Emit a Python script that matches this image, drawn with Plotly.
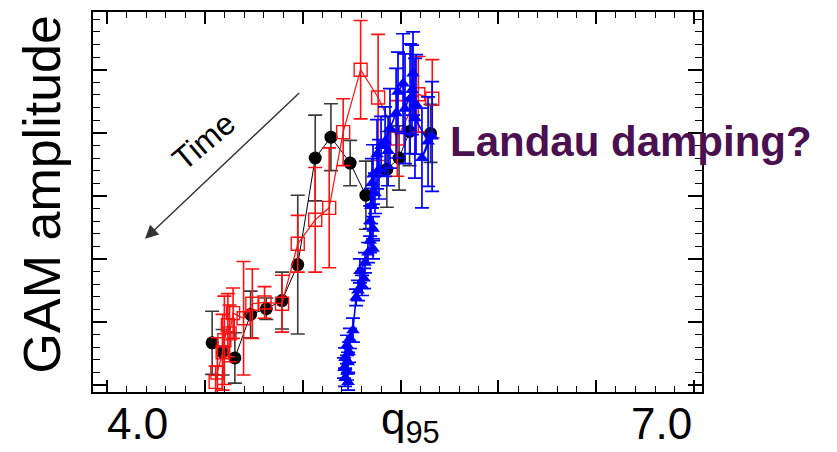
import plotly.graph_objects as go

# ---- data (q95, GAM amplitude in arbitrary units) ----
black_q = [4.43, 4.49, 4.56, 4.65, 4.74, 4.83, 4.92, 5.02, 5.11, 5.22, 5.31, 5.43, 5.50, 5.56, 5.68]
black_amp = [0.67, 0.52, 0.43, 1.12, 1.21, 1.34, 1.91, 3.60, 3.93, 3.52, 3.01, 3.42, 3.60, 4.02, 3.99]
black_err = [0.50, 0.36, 0.40, 0.37, 0.17, 0.45, 1.10, 0.68, 0.53, 0.36, 0.54, 0.60, 0.51, 0.54, 0.46]

red_q = [4.45, 4.46, 4.49, 4.50, 4.52, 4.53, 4.55, 4.61, 4.66, 4.73, 4.83, 4.92, 5.02, 5.10,
         5.18, 5.28, 5.38, 5.49, 5.61, 5.69]
red_amp = [0.05, 0.20, 0.52, 0.71, 0.95, 0.82, 1.14, 1.06, 1.29, 1.31, 1.29, 2.24, 2.62, 2.81,
           4.01, 5.00, 4.56, 3.91, 4.61, 4.54]
red_err = [0.25, 0.55, 0.60, 0.70, 0.50, 0.45, 0.40, 0.90, 0.55, 0.25, 0.45, 0.45, 0.83, 0.95,
           0.53, 0.78, 1.00, 0.60, 0.60, 0.62]

blue_q = [5.689, 5.631, 5.666, 5.591, 5.580, 5.563, 5.597, 5.574, 5.534, 5.523, 5.494, 5.483,
          5.448, 5.420, 5.437, 5.397, 5.374, 5.385, 5.351, 5.345, 5.362, 5.339, 5.334, 5.351,
          5.334, 5.351, 5.322, 5.305, 5.276, 5.299, 5.288, 5.265, 5.254, 5.236, 5.219, 5.202,
          5.214, 5.191, 5.208, 5.185, 5.202, 5.191, 5.208]
blue_amp = [3.94, 3.60, 3.86, 4.23, 4.94, 4.54, 4.45, 4.68, 4.38, 4.78, 4.65, 4.31,
            4.07, 3.86, 3.71, 3.79, 3.66, 3.42, 3.34, 3.20, 3.04, 2.84, 2.60, 2.48,
            2.29, 2.16, 2.10, 1.94, 1.81, 1.69, 1.58, 1.50, 1.39, 0.87, 0.74, 0.63,
            0.52, 0.43, 0.36, 0.27, 0.21, 0.11, 0.05]
blue_err = [0.87, 0.79, 0.71, 0.95, 0.66, 0.87, 0.79, 0.71, 0.87, 0.79, 0.63, 0.71,
            0.63, 0.55, 0.55, 0.47, 0.55, 0.47, 0.47, 0.39, 0.32, 0.28, 0.24, 0.19,
            0.19, 0.16, 0.16, 0.16, 0.19, 0.16, 0.16, 0.16, 0.13, 0.19, 0.16, 0.16,
            0.16, 0.16, 0.16, 0.16, 0.13, 0.13, 0.13]

x_tick_labels = ["4.0", "7.0"]
x_tick_values = [4.0, 7.0]

FONT = "Liberation Sans, Arial, sans-serif"

fig = go.Figure()

fig.add_trace(go.Scatter(
    x=black_q, y=black_amp, mode="lines+markers",
    line=dict(color="black", width=1),
    marker=dict(symbol="circle", size=13, color="black"),
    error_y=dict(type="data", array=black_err, color="#3a3a3a", thickness=1.6, width=7),
    showlegend=False))

fig.add_trace(go.Scatter(
    x=red_q, y=red_amp, mode="lines+markers",
    line=dict(color="#ff1010", width=1.2),
    marker=dict(symbol="square-open", size=13, color="#ff1010", line=dict(width=1.4)),
    error_y=dict(type="data", array=red_err, color="#ff1010", thickness=1.6, width=7),
    showlegend=False))

fig.add_trace(go.Scatter(
    x=blue_q, y=blue_amp, mode="lines+markers",
    line=dict(color="#0000ff", width=1.6),
    marker=dict(symbol="triangle-up", size=12, color="#0000ff"),
    error_y=dict(type="data", array=blue_err, color="#0000ff", thickness=1.7, width=7),
    showlegend=False))

fig.update_xaxes(
    range=[3.748, 7.234], showgrid=False, zeroline=False,
    showline=True, linecolor="black", linewidth=1.5, mirror="ticks",
    ticks="inside", tick0=4.389, dtick=0.56, ticklen=12, tickwidth=1.5, tickcolor="black",
    showticklabels=False,
    minor=dict(ticks="inside", tick0=4.389, dtick=0.112, ticklen=6, tickwidth=1.3, tickcolor="black"))

fig.update_yaxes(
    range=[-0.11, 5.915], showgrid=False, zeroline=False,
    showline=True, linecolor="black", linewidth=1.5, mirror="ticks",
    ticks="inside", tick0=0, dtick=1, ticklen=14, tickwidth=1.5, tickcolor="black",
    showticklabels=False,
    minor=dict(ticks="inside", tick0=0, dtick=0.2, ticklen=7, tickwidth=1.3, tickcolor="black"))

annotations = []
for v, t in zip(x_tick_values, x_tick_labels):
    annotations.append(dict(x=v, y=-0.0838, xref="x", yref="paper", text=t, showarrow=False,
                            xanchor="center", yanchor="middle",
                            font=dict(family=FONT, size=44, color="black")))
annotations.append(dict(x=5.568, y=0.0, xref="x", yref="paper", text="q<sub>95</sub>",
                        showarrow=False, xanchor="center", yanchor="top",
                        font=dict(family=FONT, size=44, color="black")))
annotations.append(dict(x=-0.0837, y=0.52, xref="paper", yref="paper", text="GAM amplitude",
                        showarrow=False, textangle=-90, xanchor="center", yanchor="middle",
                        font=dict(family=FONT, size=52, color="black")))
annotations.append(dict(x=0.884, y=0.6586, xref="paper", yref="paper", text="<b>Landau damping?</b>",
                        showarrow=False, xanchor="center", yanchor="middle",
                        font=dict(family=FONT, size=42, color="#4b1050")))
annotations.append(dict(x=0.1823, y=0.6597, xref="paper", yref="paper", text="Time",
                        showarrow=False, textangle=-40, xanchor="center", yanchor="middle",
                        font=dict(family=FONT, size=32, color="black")))
annotations.append(dict(x=0.0854, y=0.4031, xref="paper", yref="paper", text="",
                        showarrow=True, ax=155.7, ay=-147.3, axref="pixel", ayref="pixel",
                        arrowhead=2, arrowsize=1.9, arrowwidth=1.4, arrowcolor="#333333",
                        standoff=0))

# page body has an 8px margin, so the figure is shifted to compensate
fig.update_layout(
    width=837, height=452,
    margin=dict(l=85, r=143, t=2, b=68),
    paper_bgcolor="white", plot_bgcolor="white",
    font=dict(family=FONT),
    annotations=annotations)

fig.write_html("out.html")
